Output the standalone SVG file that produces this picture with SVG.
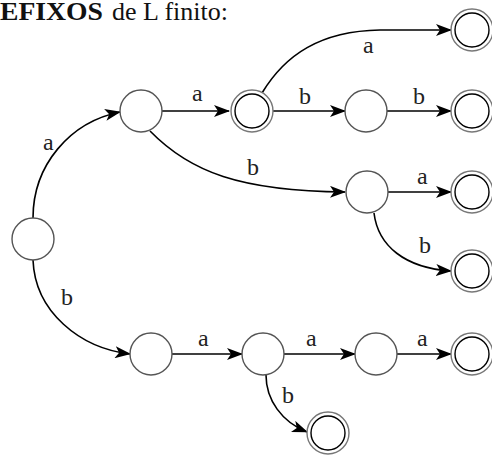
<svg xmlns="http://www.w3.org/2000/svg" width="492" height="455" viewBox="0 0 492 455">
  <style>
    .st { fill: #fff; stroke: #555; stroke-width: 1.4; }
    .fo { fill: #fff; stroke: #777; stroke-width: 1.4; }
    .fi { fill: none; stroke: #000; stroke-width: 1.4; }
    .e { fill: none; stroke: #000; stroke-width: 1.6; marker-end: url(#arr); }
    .lb { font-family: "Liberation Serif", "Times New Roman", serif; font-size: 24px; fill: #222; }
    .tt { font-family: "Liberation Serif", "Times New Roman", serif; font-size: 25px; fill: #111; }
  </style>
  <defs>
    <marker id="arr" viewBox="0 0 16 12" markerWidth="16" markerHeight="12" refX="15" refY="6" orient="auto" markerUnits="userSpaceOnUse">
      <path d="M0,0 L16,6 L0,12 L4,6 z" fill="#000"/>
    </marker>
  </defs>
  <rect width="492" height="455" fill="#fff"/>

  <text class="tt" x="0" y="20"><tspan font-weight="bold" textLength="103" lengthAdjust="spacingAndGlyphs">EFIXOS</tspan><tspan x="112" textLength="116" lengthAdjust="spacingAndGlyphs">de L finito:</tspan></text>

  <g id="edges">
    <path class="e" d="M33,218 C33,165 70,122 120,112"/>
    <path class="e" d="M162,111 L229,111"/>
    <path class="e" d="M262,93 C285,55 320,31 380,30 L451,30"/>
    <path class="e" d="M273,111 L345,111"/>
    <path class="e" d="M387,111 L451,111"/>
    <path class="e" d="M150,131 C190,172 240,191 345,192"/>
    <path class="e" d="M388,192 L451,192"/>
    <path class="e" d="M374,213 C378,246 405,268 451,271"/>
    <path class="e" d="M33,260 C35,312 80,348 130,354"/>
    <path class="e" d="M172,354 L242,354"/>
    <path class="e" d="M284,354 L355,354"/>
    <path class="e" d="M397,354 L451,354"/>
    <path class="e" d="M266,375 C266,400 282,422 307,432"/>
  </g>

  <g id="labels">
    <text class="lb" x="43" y="150">a</text>
    <text class="lb" x="192" y="101">a</text>
    <text class="lb" x="363" y="53">a</text>
    <text class="lb" x="299" y="104">b</text>
    <text class="lb" x="413" y="104">b</text>
    <text class="lb" x="247" y="175">b</text>
    <text class="lb" x="417" y="184">a</text>
    <text class="lb" x="419" y="253">b</text>
    <text class="lb" x="61" y="305">b</text>
    <text class="lb" x="198" y="346">a</text>
    <text class="lb" x="306" y="346">a</text>
    <text class="lb" x="417" y="346">a</text>
    <text class="lb" x="282" y="403">b</text>
  </g>

  <g id="q0"><circle class="st" cx="33" cy="239" r="21"/></g>
  <g id="q1"><circle class="st" cx="141" cy="111" r="21"/></g>
  <g id="q2"><circle class="fo" cx="252" cy="111" r="21"/><circle class="fi" cx="252" cy="111" r="17"/></g>
  <g id="q3"><circle class="fo" cx="472" cy="30" r="21"/><circle class="fi" cx="472" cy="30" r="17"/></g>
  <g id="q4"><circle class="st" cx="366" cy="111" r="21"/></g>
  <g id="q5"><circle class="fo" cx="472" cy="111" r="21"/><circle class="fi" cx="472" cy="111" r="17"/></g>
  <g id="q6"><circle class="st" cx="367" cy="192" r="21"/></g>
  <g id="q7"><circle class="fo" cx="472" cy="192" r="21"/><circle class="fi" cx="472" cy="192" r="17"/></g>
  <g id="q8"><circle class="fo" cx="472" cy="271" r="21"/><circle class="fi" cx="472" cy="271" r="17"/></g>
  <g id="q9"><circle class="st" cx="151" cy="354" r="21"/></g>
  <g id="q10"><circle class="st" cx="263" cy="354" r="21"/></g>
  <g id="q11"><circle class="st" cx="376" cy="354" r="21"/></g>
  <g id="q12"><circle class="fo" cx="472" cy="354" r="21"/><circle class="fi" cx="472" cy="354" r="17"/></g>
  <g id="q13"><circle class="fo" cx="328" cy="433" r="21"/><circle class="fi" cx="328" cy="433" r="17"/></g>
</svg>
